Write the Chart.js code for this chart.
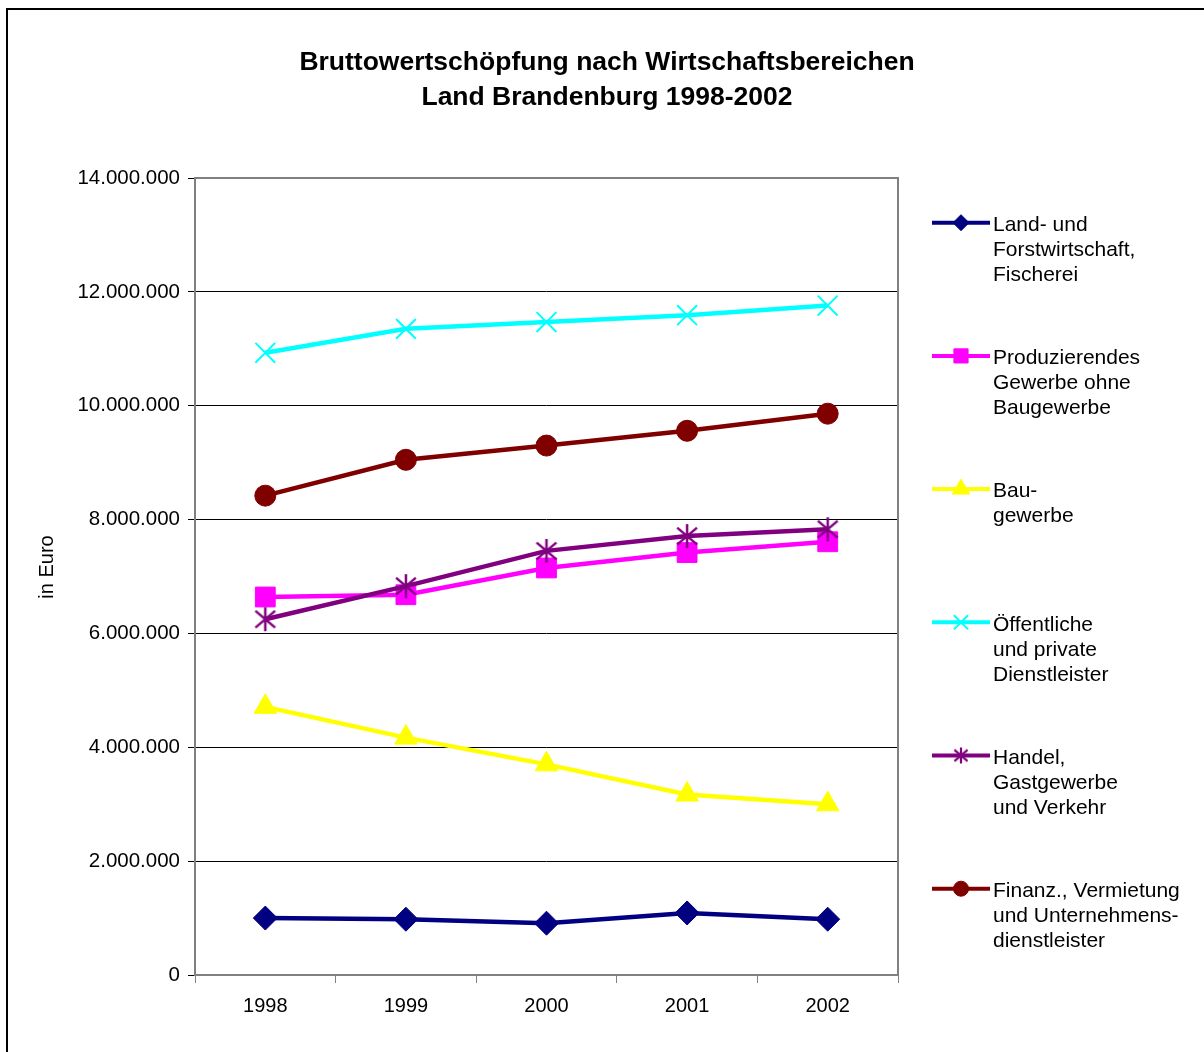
<!DOCTYPE html>
<html><head><meta charset="utf-8">
<script src="https://cdn.jsdelivr.net/npm/chart.js@4/dist/chart.umd.min.js"></script>
<style>html,body{margin:0;padding:0;background:#fff;overflow:hidden}#wrap{position:relative;width:1204px;height:1052px}</style>
</head><body><div id="wrap"><canvas id="c" width="1204" height="1052"></canvas></div>
<script>
const years = ['1998', '1999', '2000', '2001', '2002'];
const landForst = [1000000, 980000, 910000, 1090000, 980000];
const produzierend = [6640000, 6680000, 7150000, 7420000, 7610000];
const bau = [4710000, 4170000, 3700000, 3170000, 3000000];
const oeffentlich = [10930000, 11350000, 11470000, 11590000, 11760000];
const handel = [6250000, 6830000, 7450000, 7710000, 7830000];
const finanz = [8420000, 9050000, 9300000, 9560000, 9860000];
const seriesNames = [
  ['Land- und', 'Forstwirtschaft,', 'Fischerei'],
  ['Produzierendes', 'Gewerbe ohne', 'Baugewerbe'],
  ['Bau-', 'gewerbe'],
  ['Öffentliche', 'und private', 'Dienstleister'],
  ['Handel,', 'Gastgewerbe', 'und Verkehr'],
  ['Finanz., Vermietung', 'und Unternehmens-', 'dienstleister']
];
const titleLines = ['Bruttowertschöpfung nach Wirtschaftsbereichen', 'Land Brandenburg 1998-2002'];
const yTitle = 'in Euro';

const FONT = "'Liberation Sans', Arial, sans-serif";

function asterisk(size, color, lw) {
  const c = document.createElement('canvas');
  c.width = size; c.height = size;
  const x = c.getContext('2d');
  x.strokeStyle = color; x.lineWidth = lw; x.lineCap = 'butt';
  const m = size / 2, r = size / 2 - 1;
  x.beginPath();
  x.moveTo(m, m - r); x.lineTo(m, m + r);
  const dx = r * Math.cos(Math.PI / 6) * 0.95, dy = r * 0.7;
  x.moveTo(m - dx, m - dy); x.lineTo(m + dx, m + dy);
  x.moveTo(m + dx, m - dy); x.lineTo(m - dx, m + dy);
  x.stroke();
  return c;
}
const starBig = asterisk(26, '#800080', 2.5);
const starSmall = asterisk(18, '#800080', 2.2);

const styles = [
  {color: '#000080', pointStyle: 'rectRot', radius: 12, bw: 1, lr: 8},
  {color: '#FF00FF', pointStyle: 'rect', radius: 14, bw: 1, lr: 10},
  {color: '#FFFF00', pointStyle: 'triangle', radius: 13, bw: 1, lr: 10},
  {color: '#00FFFF', pointStyle: 'crossRot', radius: 14, bw: 2, lr: 10},
  {color: '#800080', pointStyle: starBig, radius: 12, bw: 1, lr: 8, legendStyle: starSmall},
  {color: '#800000', pointStyle: 'circle', radius: 10.5, bw: 1, lr: 7.5}
];
const values = [landForst, produzierend, bau, oeffentlich, handel, finanz];

const datasets = values.map((v, i) => ({
  label: seriesNames[i].join(' '),
  data: v,
  borderColor: styles[i].color,
  backgroundColor: styles[i].color,
  pointBackgroundColor: styles[i].color,
  pointBorderColor: styles[i].color,
  borderWidth: 4.5,
  pointStyle: styles[i].pointStyle,
  pointRadius: styles[i].radius,
  pointHoverRadius: styles[i].radius,
  pointBorderWidth: styles[i].bw,
  tension: 0,
  order: 10 - i
}));

function fmt(v) {
  return String(Math.round(v)).replace(/\B(?=(\d{3})+(?!\d))/g, '.');
}

const deco = {
  id: 'deco',
  beforeDraw(chart) {
    const ctx = chart.ctx;
    ctx.save();
    ctx.fillStyle = '#fff';
    ctx.fillRect(0, 0, chart.width, chart.height);
    ctx.fillStyle = '#000';
    ctx.fillRect(6, 8, 1204, 2);
    ctx.fillRect(6, 8, 2, 1052);
    ctx.restore();
  },
  beforeDatasetsDraw(chart) {
    const ctx = chart.ctx;
    const a = chart.chartArea;
    ctx.save();
    ctx.strokeStyle = '#808080';
    ctx.lineWidth = 2;
    ctx.strokeRect(a.left, a.top, a.right - a.left, a.bottom - a.top);
    ctx.restore();
  },
  afterDraw(chart) {
    const ctx = chart.ctx;
    ctx.save();
    ctx.fillStyle = '#000';
    ctx.font = 'bold 26.5px ' + FONT;
    ctx.textAlign = 'center';
    ctx.textBaseline = 'middle';
    ctx.fillText(titleLines[0], 607, 63);
    ctx.fillText(titleLines[1], 607, 98);
    ctx.save();
    ctx.translate(47, 567);
    ctx.rotate(-Math.PI / 2);
    ctx.font = '20px ' + FONT;
    ctx.fillText(yTitle, 0, 0);
    ctx.restore();
    for (let i = 0; i < styles.length; i++) {
      const s = styles[i];
      const y = 222.7 + 133.2 * i;
      ctx.strokeStyle = s.color;
      ctx.fillStyle = s.color;
      ctx.lineWidth = 4;
      ctx.beginPath();
      ctx.moveTo(932, y); ctx.lineTo(990, y);
      ctx.stroke();
      ctx.lineWidth = s.bw;
      Chart.helpers.drawPoint(ctx, {pointStyle: s.legendStyle || s.pointStyle, radius: s.lr, borderWidth: s.bw, rotation: 0}, 961, y);
      ctx.fillStyle = '#000';
      ctx.font = '21px ' + FONT;
      ctx.textAlign = 'left';
      ctx.textBaseline = 'middle';
      seriesNames[i].forEach((t, k) => ctx.fillText(t, 993, y + 2.5 + 25 * k));
    }
    ctx.restore();
  }
};

new Chart(document.getElementById('c'), {
  type: 'line',
  data: {labels: years, datasets},
  plugins: [deco],
  options: {
    responsive: false,
    animation: false,
    layout: {padding: {left: 0, top: 178, right: 306, bottom: 0}},
    plugins: {legend: {display: false}, title: {display: false}, tooltip: {enabled: false}},
    scales: {
      x: {
        offset: true,
        grid: {offset: true, drawOnChartArea: false, drawTicks: true, tickLength: 8, color: '#808080', lineWidth: 1},
        border: {display: false},
        ticks: {font: {family: FONT, size: 20}, color: '#000', padding: 11, maxRotation: 0},
        afterFit(s) { s.height = 77; }
      },
      y: {
        min: 0, max: 14000000,
        grid: {color: '#000', lineWidth: 1, tickLength: 7, drawTicks: true},
        border: {display: false},
        ticks: {stepSize: 2000000, font: {family: FONT, size: 20.5}, color: '#000', padding: 8, callback: v => fmt(v)},
        afterFit(s) { s.width = 195; }
      }
    }
  }
});
</script>
</body></html>
